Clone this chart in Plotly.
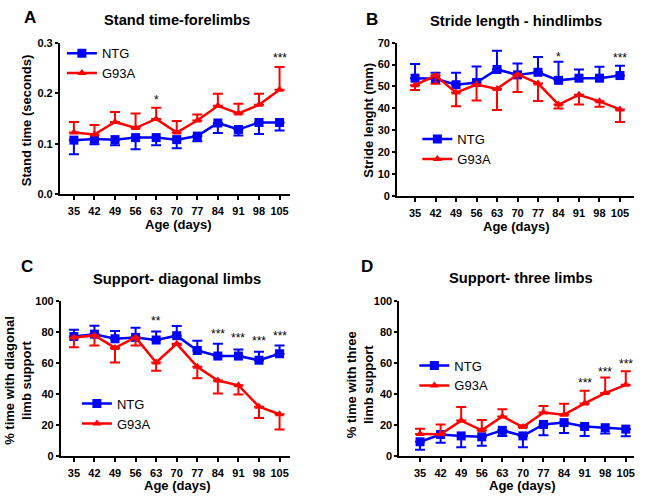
import plotly.graph_objects as go

W, H = 647, 502
FONT = "Liberation Sans, Arial, sans-serif"

# DATA ##############################################################################################

ages = [35, 42, 49, 56, 63, 70, 77, 84, 91, 98, 105]

stand_ntg = [0.107, 0.109, 0.108, 0.112, 0.112, 0.108, 0.115, 0.141, 0.128, 0.142, 0.142]
stand_ntg_sem = [0.028, 0.010, 0.011, 0.023, 0.015, 0.017, 0.010, 0.020, 0.012, 0.023, 0.016]
stand_g93a = [0.122, 0.118, 0.143, 0.131, 0.149, 0.122, 0.146, 0.175, 0.160, 0.177, 0.207]
stand_g93a_sem = [0.021, 0.019, 0.020, 0.029, 0.022, 0.023, 0.012, 0.024, 0.019, 0.022, 0.045]

stride_ntg = [53.8, 53.5, 50.8, 51.8, 57.8, 55.3, 56.5, 52.8, 53.8, 53.8, 55.0]
stride_ntg_sem = [6.5, 2.8, 5.5, 7.4, 8.6, 5.2, 7.0, 8.5, 4.0, 5.2, 4.5]
stride_g93a = [50.6, 55.0, 47.2, 50.9, 48.9, 55.5, 51.4, 41.7, 46.2, 43.2, 39.5]
stride_g93a_sem = [2.2, 3.7, 6.3, 7.3, 9.7, 8.0, 8.1, 1.8, 4.5, 2.5, 5.8]

diag_ntg = [77.3, 78.8, 75.8, 76.7, 75.0, 77.8, 68.2, 64.6, 64.6, 61.9, 66.1]
diag_ntg_sem = [4.3, 5.5, 5.1, 6.3, 5.5, 6.3, 6.4, 7.9, 4.3, 5.5, 5.3]
diag_g93a = [76.7, 78.0, 69.9, 76.7, 60.4, 72.5, 57.6, 48.7, 45.6, 31.8, 26.9]
diag_g93a_sem = [6.4, 6.6, 9.5, 5.3, 5.3, 0.8, 7.4, 8.4, 6.0, 7.4, 10.0]

three_ntg = [9.0, 13.7, 12.8, 12.2, 16.4, 12.8, 20.2, 21.4, 18.9, 18.1, 17.2]
three_ntg_sem = [5.2, 5.3, 7.3, 5.7, 3.6, 7.3, 7.0, 6.7, 6.1, 3.8, 4.6]
three_g93a = [14.1, 13.9, 22.7, 16.4, 25.4, 18.5, 27.9, 26.5, 33.8, 40.5, 45.8]
three_g93a_sem = [3.3, 6.3, 8.8, 6.7, 4.6, 1.0, 4.2, 7.1, 8.2, 10.1, 8.8]

# significance marks: (age, y, label)
stand_sig = [(63, 0.186, "*"), (105, 0.270, "***")]
stride_sig = [(84, 63.5, "*"), (105, 63.0, "***")]
diag_sig = [(63, 87.3, "**"), (84, 78.8, "***"), (91, 76.3, "***"), (98, 74.2, "***"), (105, 77.8, "***")]
three_sig = [(91, 46.8, "***"), (98, 54.2, "***"), (105, 59.0, "***")]

# LAYOUT (pixel boxes of each panel) ################################################################

panels = [
    dict(ax="", left=60, right=290, top=37.7, bottom=192.7, xr=[30.24, 108.4], yr=[0, 0.3], dt=0.1,
         ntg=stand_ntg, ntg_e=stand_ntg_sem, g=stand_g93a, g_e=stand_g93a_sem, ntg_up=False,
         sig=stand_sig, title="Stand time-forelimbs", letter="A", ytitle="Stand time (seconds)",
         tx=177, ty=14, lx=30, ly=12, xtx=178, xty=224, ytx=26, yty=117, legx=62, legy=33, fmt=".1f"),
    dict(ax="2", left=397.7, right=635, top=37.7, bottom=194.3, xr=[28.86, 109.8], yr=[0, 70], dt=10,
         ntg=stride_ntg, ntg_e=stride_ntg_sem, g=stride_g93a, g_e=stride_g93a_sem, ntg_up=True,
         sig=stride_sig, title="Stride length - hindlimbs", letter="B", ytitle="Stride lenght (mm)",
         tx=517, ty=15, lx=373, ly=14, xtx=517, xty=226, ytx=369, yty=117, legx=418, legy=121, fmt="d"),
    dict(ax="3", left=61, right=290, top=302.7, bottom=460.7, xr=[30.58, 108.4], yr=[0, 100], dt=20,
         ntg=diag_ntg, ntg_e=diag_ntg_sem, g=diag_g93a, g_e=diag_g93a_sem, ntg_up=True,
         sig=diag_sig, title="Support- diagonal limbs", letter="C",
         ytitle="% time with diagonal<br>limb support",
         tx=177, ty=280, lx=27, ly=267, xtx=177, xty=491, ytx=18, yty=383, legx=77, legy=392, fmt="d"),
    dict(ax="4", left=400, right=635, top=302.3, bottom=460.7, xr=[27.97, 107.8], yr=[0, 100], dt=20,
         ntg=three_ntg, ntg_e=three_ntg_sem, g=three_g93a, g_e=three_g93a_sem, ntg_up=False,
         sig=three_sig, title="Support- three limbs", letter="D",
         ytitle="% time with three<br>limb support",
         tx=522, ty=279, lx=368, ly=267, xtx=523, xty=491, ytx=360, yty=388, legx=415, legy=353, fmt="d"),
]


def px(x):
    return x / W


def py(y):
    return 1 - y / H


fig = go.Figure()
annotations = []
layout = {}
zeros = [0] * len(ages)


def txt(x, y, text, size, **kw):
    annotations.append(dict(x=px(x), y=py(y), xref="paper", yref="paper", text=text, showarrow=False,
                            xanchor="center", yanchor="middle",
                            font=dict(family=FONT, size=size, color="black", weight="bold"), **kw))


for i, p in enumerate(panels):
    xa, ya = "x" + p["ax"], "y" + p["ax"]
    leg = "legend" + ("" if i == 0 else str(i + 1))

    # one-sided SEM bars: the upper curve gets bars above, the lower one below
    ntg_err = dict(type="data", symmetric=False, color="#0000ff", thickness=2, width=5,
                   array=p["ntg_e"] if p["ntg_up"] else zeros,
                   arrayminus=zeros if p["ntg_up"] else p["ntg_e"])
    g_err = dict(type="data", symmetric=False, color="#ff0000", thickness=2, width=5,
                 array=zeros if p["ntg_up"] else p["g_e"],
                 arrayminus=p["g_e"] if p["ntg_up"] else zeros)

    fig.add_trace(go.Scatter(x=ages, y=p["ntg"], name="NTG", mode="lines+markers", xaxis=xa, yaxis=ya,
                             legend=leg, cliponaxis=False, error_y=ntg_err,
                             line=dict(color="#0000ff", width=2.5),
                             marker=dict(symbol="square", size=9, color="#0000ff")))
    fig.add_trace(go.Scatter(x=ages, y=p["g"], name="G93A", mode="lines+markers", xaxis=xa, yaxis=ya,
                             legend=leg, cliponaxis=False, error_y=g_err,
                             line=dict(color="#ff0000", width=2.5),
                             marker=dict(symbol="triangle-up", size=8, color="#ff0000")))

    axis_common = dict(showline=True, linecolor="black", linewidth=2, ticks="outside", ticklen=4,
                       tickwidth=2, tickcolor="black", showgrid=False, zeroline=False,
                       tickfont=dict(family=FONT, size=11, color="black", weight="bold"))
    layout["xaxis" + p["ax"]] = dict(axis_common, domain=[px(p["left"]), px(p["right"])], range=p["xr"],
                                     anchor=ya, tickmode="array", tickvals=ages, ticklabelstandoff=2)
    layout["yaxis" + p["ax"]] = dict(axis_common, domain=[py(p["bottom"]), py(p["top"])], range=p["yr"],
                                     anchor=xa, dtick=p["dt"], tick0=0, tickformat=p["fmt"], ticklen=3)
    layout[leg] = dict(x=px(p["legx"]), y=py(p["legy"]), xref="paper", yref="paper", xanchor="left",
                       yanchor="top", bgcolor="rgba(0,0,0,0)", itemwidth=30, tracegroupgap=0,
                       font=dict(family=FONT, size=13, color="black"))

    for age, yv, lab in p["sig"]:
        annotations.append(dict(x=age, y=yv, xref=xa, yref=ya, text=lab, showarrow=False,
                                xanchor="center", yanchor="middle",
                                font=dict(family=FONT, size=12, color="black")))

    txt(p["tx"], p["ty"], p["title"], 14.7)
    txt(p["lx"], p["ly"], p["letter"], 17)
    txt(p["xtx"], p["xty"], "Age (days)", 13)
    txt(p["ytx"], p["yty"], p["ytitle"], 13, textangle=-90)

fig.update_layout(
    width=W, height=H, margin=dict(l=0, r=0, t=0, b=0),
    paper_bgcolor="white", plot_bgcolor="white", showlegend=True,
    annotations=annotations, **layout,
)

# the page has the browser's default body margin, remove it so pixels line up
fig.write_html("out.html", config={"displayModeBar": False},
               post_script="document.body.style.margin='0';")
